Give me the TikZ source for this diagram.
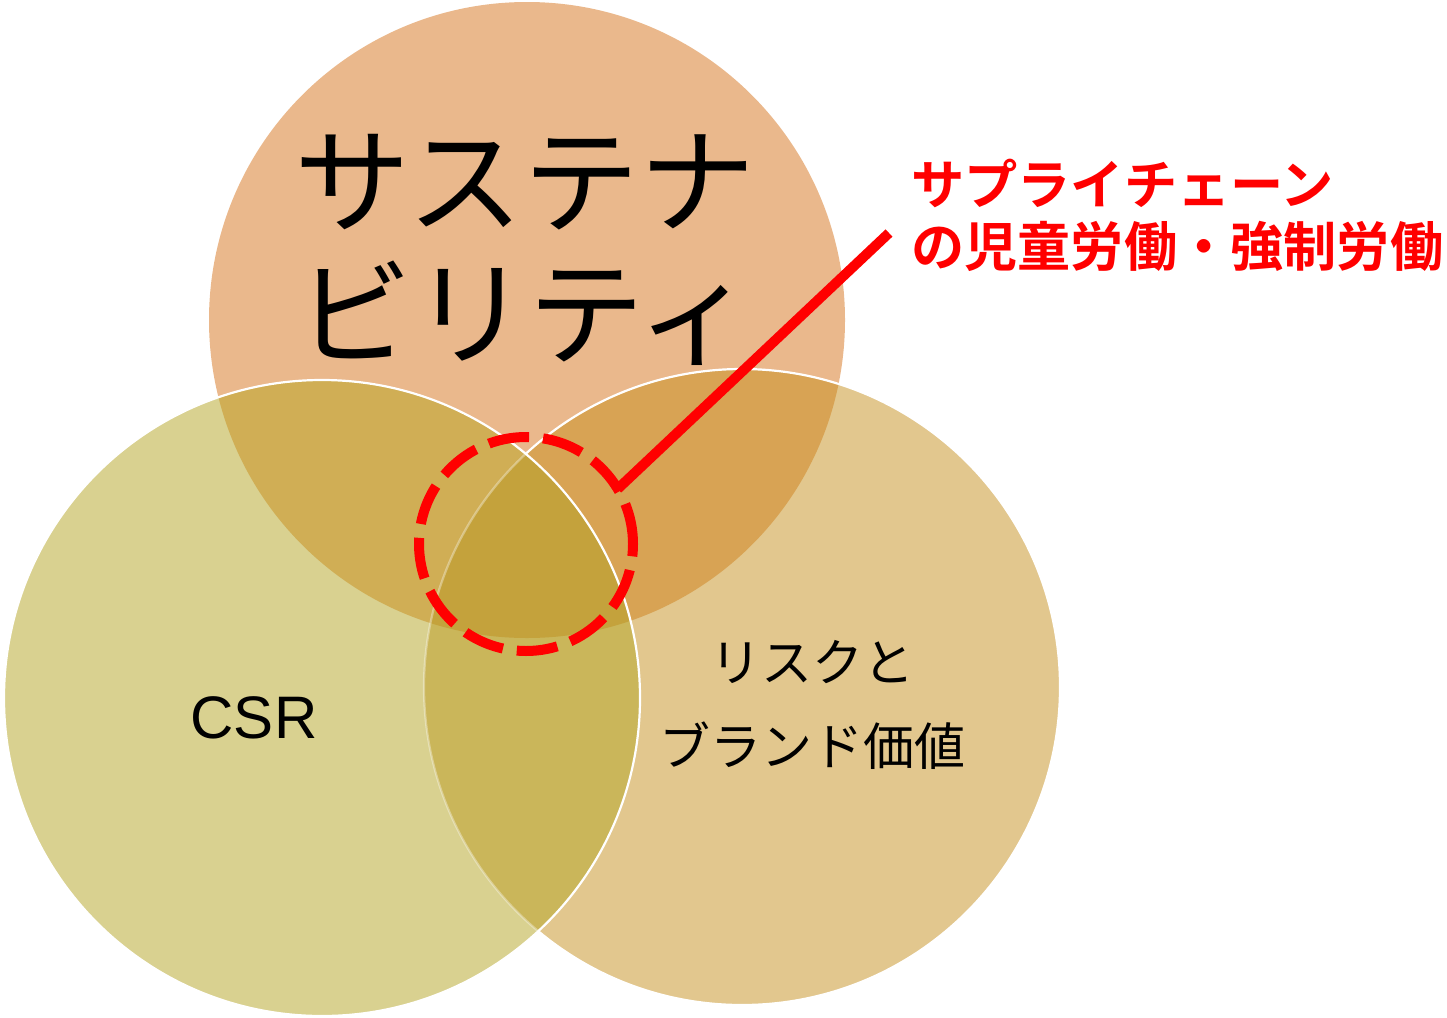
\documentclass[tikz,border=0pt]{standalone}
\usepackage{fontspec}
\setmainfont{Noto Sans CJK JP}[BoldFont={Noto Sans CJK JP Bold}]
\newfontfamily\latinfont{Liberation Sans}
\definecolor{cTop}{HTML}{EAB88C}
\definecolor{cLeft}{HTML}{D9D190}
\definecolor{cRight}{HTML}{E2C78E}
\definecolor{cTL}{HTML}{D0AE55}
\definecolor{cTR}{HTML}{D8A354}
\definecolor{cLR}{HTML}{CAB65A}
\definecolor{cAll}{HTML}{C4A23C}
\definecolor{cRed}{HTML}{FF0000}
\begin{document}
\begin{tikzpicture}[x=1pt,y=-1pt,
  rim/.style={white,line width=2.2pt},
  bigtxt/.style={font=\fontsize{116pt}{132pt}\selectfont,align=center,inner sep=0pt},
  midtxt/.style={font=\fontsize{51pt}{84pt}\selectfont,align=center,inner sep=0pt},
  redtxt/.style={font=\fontsize{53.2pt}{62pt}\selectfont\bfseries,text=cRed,align=left,inner sep=0pt},
  focusring/.style={circle,draw=cRed,line width=10pt,dash pattern=on 41pt off 14pt,minimum size=214pt,inner sep=0pt,outer sep=0pt},
  leader/.style={draw=cRed,line width=10pt}]
\useasboundingbox (0,0) rectangle (1447,1017);
\coordinate (T) at (527,320);
\coordinate (L) at (322,698);
\coordinate (R) at (742,687);
\def\rr{318pt}
% top circle
\fill[cTop] (T) circle[radius=\rr];
% right circle
\fill[cRight] (R) circle[radius=\rr];
\begin{scope}
  \clip (T) circle[radius=\rr];
  \fill[cTR] (R) circle[radius=\rr];
\end{scope}
\draw[rim] (R) circle[radius=\rr];
% left circle
\fill[cLeft] (L) circle[radius=\rr];
\begin{scope}
  \clip (L) circle[radius=\rr];
  \fill[cTL] (T) circle[radius=\rr];
  \fill[cLR] (R) circle[radius=\rr];
  \clip (T) circle[radius=\rr];
  \fill[cAll] (R) circle[radius=\rr];
\end{scope}
\begin{scope}
  \clip (L) circle[radius=\rr];
  \draw[rim,opacity=0.35] (R) circle[radius=\rr];
\end{scope}
\draw[rim] (L) circle[radius=\rr];
% texts
\node[bigtxt] (sus) at (525,250) {サステナ\\ビリティ};
\node[inner sep=0pt,font=\latinfont\fontsize{60pt}{72pt}\selectfont] (csr) at (254,718) {CSR};
\node[midtxt] (risk) at (812,705) {リスクと\\ブランド価値};
\node[redtxt,anchor=west] (chain) at (911,215) {サプライチェーン\\の児童労働・強制労働};
% focus ring and leader
\node[focusring] (focus) at (526,544) {};
\coordinate (lead) at (889,233);
\draw[leader] (lead) -- (focus.31.5);
\end{tikzpicture}
\end{document}
